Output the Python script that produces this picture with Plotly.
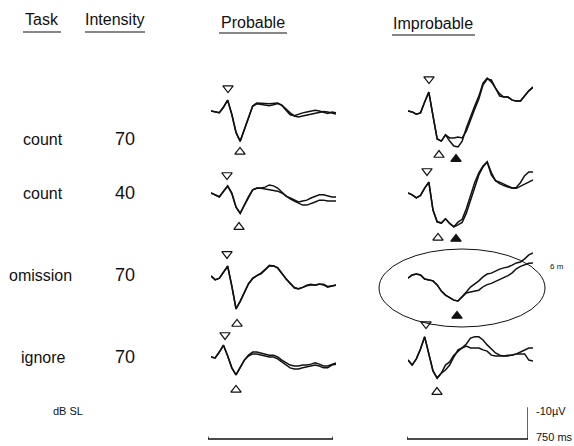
import plotly.graph_objects as go

W, H = 574, 446

# ---------------- data ----------------
TIME_MS = list(range(0, 751, 25))

ROW_TASKS = ["count", "count", "omission", "ignore"]
ROW_INTENSITY_DB = ["70", "40", "70", "70"]
COLUMN_TITLES = ["Probable", "Improbable"]

# amplitudes in microvolts (negative plotted upward)
PROB_COUNT70_A = [0, 0.2, 0.6, -1.3, -3.5, 1.0, 6.8, 9.7, 6.1, 1.9, -1.6, -2.6, -2.6, -2.4, -2.3, -2.4,
                  -2.6, -1.9, -0.6, 0.6, 1.6, 1.9, 1.6, 1.3, 1.0, 0.6, 0.3, 0.2, 0.3, 0.6, 1.0]
PROB_COUNT70_B = [0, 0.3, 0.5, -1.2, -3.5, 1.2, 7.0, 9.8, 6.0, 1.8, -1.5, -2.3, -2.1, -1.8, -1.7, -2.0,
                  -2.4, -1.8, -0.3, 1.2, 1.5, 1.0, 0.6, 0.3, 0.0, -0.2, 0.0, 0.5, 0.8, 0.3, 0.6]
PROB_COUNT40_A = [0, 0.6, 1.3, -0.6, -2.3, 0, 4.5, 6.5, 3.9, 1.3, -1.0, -1.6, -1.6, -1.9, -2.6, -2.3,
                  -1.6, -0.3, 1.0, 1.6, 2.3, 2.9, 2.6, 2.3, 1.6, 1.0, 0.6, 0.6, 1.0, 1.3, 1.3]
PROB_COUNT40_B = [0, 0.6, 1.2, -0.5, -2.2, 0.2, 4.6, 6.6, 3.8, 1.2, -1.0, -1.5, -1.5, -1.3, -1.0, -1.0,
                  -0.6, 0, 1.0, 1.9, 2.6, 3.2, 3.9, 3.9, 3.5, 2.9, 2.3, 2.3, 2.6, 2.6, 2.6]
PROB_OMIT70_A = [0.3, 1.6, 1.0, -1.0, -2.9, 3.5, 11.0, 8.4, 5.8, 2.9, 1.0, 0.3, -0.6, -1.8, -3.1, -2.9,
                 -2.4, -0.6, 1.3, 2.6, 4.2, 4.5, 3.9, 3.5, 3.2, 3.2, 2.9, 3.2, 3.9, 3.5, 3.2]
PROB_OMIT70_B = [0.3, 1.5, 1.1, -0.9, -2.8, 3.7, 10.8, 8.6, 5.7, 2.8, 1.2, 0.2, -0.4, -1.7, -2.9, -3.0,
                 -2.2, -0.5, 1.2, 2.8, 4.0, 4.4, 4.0, 3.3, 3.0, 3.3, 3.0, 3.0, 3.7, 3.6, 3.3]
PROB_IGNORE70_A = [0, 0.3, -1.6, -3.8, -0.3, 3.5, 5.8, 3.2, 1.0, -0.6, -1.6, -1.6, -1.3, -1.0, -0.6, -0.6,
                   0, 1.0, 1.9, 2.6, 2.9, 2.9, 2.6, 2.6, 2.3, 1.9, 2.3, 2.9, 2.9, 2.3, 1.9]
PROB_IGNORE70_B = [0, 0.3, -1.6, -3.8, -0.3, 3.5, 5.8, 3.2, 1.0, -0.3, -1.0, -1.0, -0.6, -0.3, 0, 0,
                   0.6, 1.6, 2.6, 3.5, 3.9, 3.9, 3.5, 3.2, 2.9, 2.6, 2.9, 3.5, 3.5, 2.6, 2.3]

IMPROB_COUNT70_A = [0, 0.3, 1.0, 0.6, -2.9, -6.1, 1.6, 9.0, 9.7, 7.7, 9.7, 11.3, 11.6, 9.7, 5.5, 1.6,
                    -1.6, -4.8, -9.0, -10.6, -9.4, -7.4, -5.5, -4.5, -4.5, -3.5, -3.2, -3.2, -4.8, -6.5, -7.7]
IMPROB_COUNT70_B = [0, 0.3, 1.0, 0.6, -2.9, -6.1, 1.6, 9.0, 9.7, 7.7, 8.7, 8.7, 8.4, 8.7, 6.5, 2.6,
                    -0.6, -3.9, -8.4, -10.3, -10.0, -7.4, -4.8, -4.5, -4.5, -3.5, -3.2, -3.2, -4.8, -6.5, -7.7]
IMPROB_COUNT40_A = [0, 0.6, 1.6, 0.8, -1.6, -3.5, 5.5, 9.3, 9.7, 8.3, 9.8, 10.9, 10.3, 9.5, 6.5, 2.6,
                    -1.7, -5.8, -8.4, -10.0, -6.6, -4.0, -3.5, -2.9, -2.3, -1.6, -1.8, -3.4, -5.6, -6.8, -6.8]
IMPROB_COUNT40_B = [0, 0.6, 1.6, 0.8, -1.6, -3.5, 5.5, 9.3, 9.7, 8.3, 9.8, 10.9, 9.4, 8.5, 5.1, 0.7,
                    -3.3, -6.5, -8.7, -10.0, -5.8, -4.0, -3.0, -2.4, -1.9, -1.5, -1.5, -2.2, -2.9, -3.6, -4.2]
IMPROB_OMIT70_A = [1.0, 0, -0.3, 0, 1.3, 1.6, 1.9, 3.2, 5.2, 6.5, 7.4, 8.1, 8.4, 7.1, 5.5, 3.9,
                   2.9, 1.9, 0.6, -0.3, -0.6, -1.3, -1.9, -2.3, -2.6, -3.2, -3.9, -4.2, -5.2, -6.5, -7.1]
IMPROB_OMIT70_B = [1.0, 0, -0.3, 0, 1.3, 1.6, 1.9, 3.2, 5.2, 6.5, 7.4, 8.1, 8.4, 7.1, 5.8, 5.5,
                   5.3, 4.9, 3.8, 3.1, 2.7, 2.1, 1.4, 0.7, 0.2, -0.7, -2.0, -2.8, -3.4, -3.8, -3.9]
IMPROB_IGNORE70_A = [1.0, 2.6, 0.6, -2.6, -6.5, -0.6, 4.5, 6.8, 5.2, 2.6, 1.6, -0.6, -1.9, -2.9, -4.2, -6.1,
                     -6.5, -6.5, -5.5, -3.9, -2.6, -1.3, -0.6, -0.3, -0.3, -0.6, -1.0, -1.6, -2.3, -2.9, -2.9]
IMPROB_IGNORE70_B = [1.0, 2.6, 0.6, -2.6, -6.5, -0.6, 4.5, 6.8, 5.2, 4.2, 2.6, 0, -2.3, -2.9, -3.5, -2.9,
                     -2.9, -2.9, -2.3, -1.9, -0.6, -0.3, -0.3, -0.3, -0.6, -0.6, -1.0, -1.0, -1.0, 1.0, 1.3]

# peak markers: row, column, latency (ms), level (uV), kind
MARK_ROW = [0, 0, 1, 1, 2, 2, 3, 3, 0, 0, 0, 1, 1, 1, 2, 3, 3]
MARK_COL = [0, 0, 0, 0, 0, 0, 0, 0, 1, 1, 1, 1, 1, 1, 1, 1, 1]
MARK_MS = [102, 174, 96, 168, 96, 156, 84, 150, 126, 186, 288, 114, 180, 288, 294, 108, 174]
MARK_UV = [-7.4, 13.2, -5.8, 11.0, -6.8, 15.8, -7.1, 10.6, -10.3, 14.2, 15.5, -7.1, 14.5, 14.8, 13.2, -10.6, 11.3]
MARK_KIND = ["down", "up", "down", "up", "down", "up", "down", "up",
             "down", "up", "filled", "down", "up", "filled", "filled", "down", "up"]

SCALE_MS = 750
SCALE_UV = 10

WAVES = [
    [(PROB_COUNT70_A, PROB_COUNT70_B), (IMPROB_COUNT70_A, IMPROB_COUNT70_B)],
    [(PROB_COUNT40_A, PROB_COUNT40_B), (IMPROB_COUNT40_A, IMPROB_COUNT40_B)],
    [(PROB_OMIT70_A, PROB_OMIT70_B), (IMPROB_OMIT70_A, IMPROB_OMIT70_B)],
    [(PROB_IGNORE70_A, PROB_IGNORE70_B), (IMPROB_IGNORE70_A, IMPROB_IGNORE70_B)],
]

# ---------------- geometry (pixels) ----------------
ROW_BASE_PX = [111, 193, 275, 357]
ROW_LABEL_PX = [139, 193, 275, 357]
TASK_X_PX = [43, 43, 40, 43]
COL_LEFT_PX = [211, 408]
PANEL_W_PX = 125
PX_PER_UV = 3.1
ABOVE_PX, BELOW_PX = 40, 50

INK = "#111111"
FONT = "Liberation Sans"


def px_x(p):
    return p / W


def px_y(p):
    return 1 - p / H


fig = go.Figure()
layout = dict(
    width=W, height=H, margin=dict(l=0, r=0, t=0, b=0),
    paper_bgcolor="white", plot_bgcolor="rgba(0,0,0,0)",
    showlegend=False,
)

symbol_map = {"down": "triangle-down-open", "up": "triangle-up-open", "filled": "triangle-up"}


def axis_names(k):
    return ("x" if k == 1 else f"x{k}", "y" if k == 1 else f"y{k}",
            "xaxis" if k == 1 else f"xaxis{k}", "yaxis" if k == 1 else f"yaxis{k}")


k = 0
panel_axis = {}
for r in range(4):
    for c in range(2):
        k += 1
        xa, ya, xk, yk = axis_names(k)
        panel_axis[(r, c)] = (xa, ya)
        left = COL_LEFT_PX[c]
        b = ROW_BASE_PX[r]
        layout[xk] = dict(domain=[px_x(left), px_x(left + PANEL_W_PX)], range=[0, 750],
                          visible=False, anchor=ya, fixedrange=True)
        layout[yk] = dict(domain=[px_y(b + BELOW_PX), px_y(b - ABOVE_PX)],
                          range=[BELOW_PX / PX_PER_UV, -ABOVE_PX / PX_PER_UV],
                          visible=False, anchor=xa, fixedrange=True)
        for wave in WAVES[r][c]:
            fig.add_trace(go.Scatter(x=TIME_MS, y=wave, mode="lines", xaxis=xa, yaxis=ya,
                                     line=dict(color=INK, width=1.5), hoverinfo="skip"))

# peak markers
for r, c, t, v, kind in zip(MARK_ROW, MARK_COL, MARK_MS, MARK_UV, MARK_KIND):
    xa, ya = panel_axis[(r, c)]
    fig.add_trace(go.Scatter(x=[t], y=[v], mode="markers", xaxis=xa, yaxis=ya, cliponaxis=False,
                             marker=dict(symbol=symbol_map[kind], size=9, color=INK,
                                         line=dict(color=INK, width=1.2)),
                             hoverinfo="skip"))

# scale bars
SCALE_BASE_PX = 439
SCALE_BAR_PX = [(208, 333), (407, 528)]
for i, (x0, x1) in enumerate(SCALE_BAR_PX):
    k += 1
    xa, ya, xk, yk = axis_names(k)
    layout[xk] = dict(domain=[px_x(x0), px_x(x1)], range=[0, SCALE_MS], visible=False,
                      anchor=ya, fixedrange=True)
    layout[yk] = dict(domain=[0, px_y(398)],
                      range=[(H - SCALE_BASE_PX) / PX_PER_UV, -(SCALE_BASE_PX - 398) / PX_PER_UV],
                      visible=False, anchor=xa, fixedrange=True)
    if i == 0:
        xs = [0, 0, SCALE_MS, SCALE_MS]
        ys = [-0.8, 0, 0, -0.8]
    else:
        xs = [0, 0, SCALE_MS, SCALE_MS, SCALE_MS * 1.02]
        ys = [-0.8, 0, 0, -SCALE_UV, -SCALE_UV]
    fig.add_trace(go.Scatter(x=xs, y=ys, mode="lines", xaxis=xa, yaxis=ya, cliponaxis=False,
                             line=dict(color=INK, width=1.3), hoverinfo="skip"))

# ---------------- text ----------------
ann = []


def text(s, x, y, size, anchor="center"):
    ann.append(dict(text=s, x=px_x(x), y=px_y(y), xref="paper", yref="paper", showarrow=False,
                    xanchor=anchor, yanchor="middle", font=dict(family=FONT, size=size, color=INK)))


headers = [("Task", 42, 19, 23, 61, 32), ("Intensity", 115, 19, 85, 145, 32),
           (COLUMN_TITLES[0], 253, 22, 219, 287, 33), (COLUMN_TITLES[1], 433, 23, 392, 475, 35)]
shapes = []
for s, cx, cy, u0, u1, uy in headers:
    text(s, cx, cy, 16)
    shapes.append(dict(type="line", xref="paper", yref="paper", x0=px_x(u0), x1=px_x(u1),
                       y0=px_y(uy), y1=px_y(uy), line=dict(color=INK, width=1.2)))

for r in range(4):
    text(ROW_TASKS[r], TASK_X_PX[r], ROW_LABEL_PX[r], 16)
    text(ROW_INTENSITY_DB[r], 125, ROW_LABEL_PX[r], 18)

text("dB SL", 68, 411, 11)
text("-10µV", 534, 411, 11, anchor="left")
text("750 ms", 534, 437, 11, anchor="left")
text("6 m", 548, 266, 8, anchor="left")

shapes.append(dict(type="circle", xref="paper", yref="paper", x0=px_x(379), x1=px_x(545),
                   y0=px_y(327), y1=px_y(249), line=dict(color=INK, width=1)))

layout["annotations"] = ann
layout["shapes"] = shapes
fig.update_layout(**layout)
fig.write_html("out.html", config={"displayModeBar": False, "staticPlot": True},
               post_script="document.body.style.margin='0';document.body.style.overflow='hidden';")
